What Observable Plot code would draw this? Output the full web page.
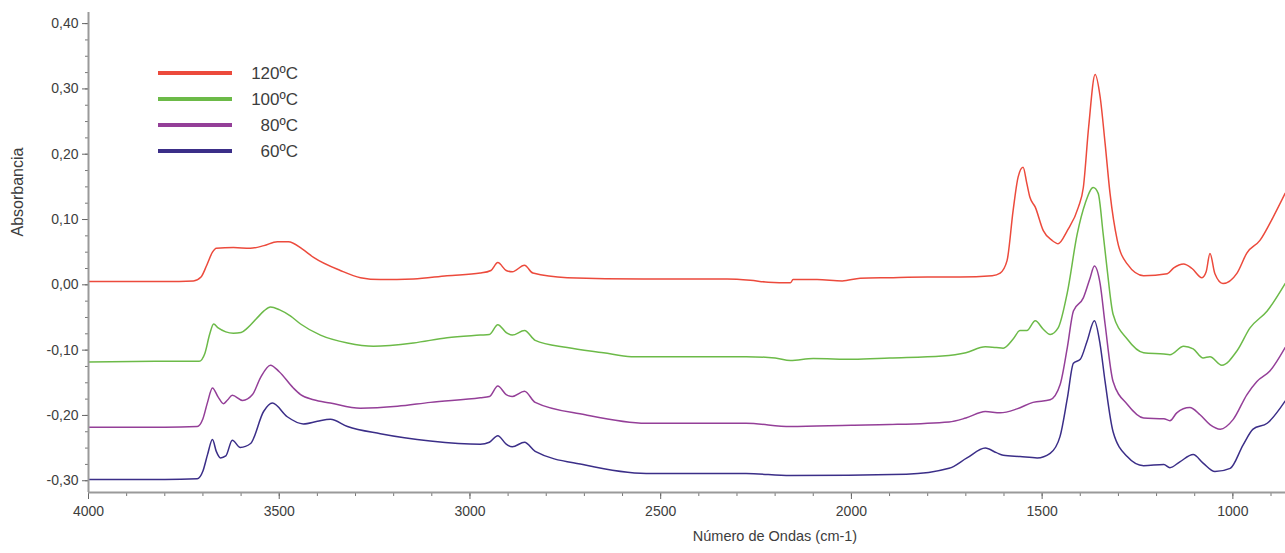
<!DOCTYPE html>
<html>
<head>
<meta charset="utf-8">
<script src="https://cdn.jsdelivr.net/npm/d3@7"></script>
<script src="https://cdn.jsdelivr.net/npm/@observablehq/plot@0.6"></script>
<style>
  html, body { margin: 0; padding: 0; background: #fff; }
  #chart { width: 1285px; height: 553px; overflow: hidden; }
</style>
</head>
<body>
<div id="chart"></div>
<script>
// Series names and colours
const seriesNames = ["120ºC", "100ºC", "80ºC", "60ºC"];
const seriesColors = ["#ec4a3c", "#6cba48", "#943f98", "#3b2e88"];

// [wavenumber (cm-1), absorbance]
const s120 = [[4000,0.005],[3800,0.005],[3725,0.006],[3705,0.012],[3690,0.030],[3675,0.050],[3665,0.056],[3620,0.057],[3576,0.056],[3540,0.060],[3505,0.066],[3476,0.066],[3440,0.055],[3410,0.042],[3340,0.022],[3287,0.011],[3235,0.008],[3148,0.009],[3060,0.014],[2973,0.018],[2945,0.022],[2927,0.034],[2905,0.022],[2889,0.020],[2857,0.030],[2835,0.018],[2745,0.011],[2546,0.009],[2326,0.009],[2265,0.007],[2218,0.004],[2160,0.003],[2153,0.008],[2090,0.008],[2024,0.006],[1977,0.010],[1901,0.011],[1800,0.012],[1715,0.012],[1631,0.014],[1610,0.018],[1592,0.037],[1576,0.114],[1563,0.165],[1550,0.180],[1540,0.155],[1532,0.134],[1518,0.119],[1497,0.083],[1474,0.068],[1458,0.063],[1434,0.083],[1405,0.119],[1392,0.149],[1378,0.242],[1361,0.322],[1348,0.288],[1335,0.217],[1322,0.140],[1303,0.068],[1277,0.032],[1234,0.014],[1172,0.017],[1155,0.026],[1129,0.032],[1107,0.025],[1081,0.011],[1070,0.020],[1060,0.048],[1047,0.017],[1026,0.002],[989,0.018],[963,0.049],[929,0.068],[895,0.103],[863,0.140]];
const s100 = [[4000,-0.118],[3800,-0.117],[3710,-0.117],[3695,-0.105],[3682,-0.075],[3672,-0.060],[3660,-0.066],[3640,-0.072],[3620,-0.074],[3600,-0.073],[3583,-0.066],[3560,-0.052],[3540,-0.040],[3523,-0.034],[3500,-0.038],[3470,-0.048],[3444,-0.060],[3392,-0.077],[3321,-0.089],[3253,-0.094],[3148,-0.089],[3060,-0.081],[2973,-0.077],[2949,-0.076],[2927,-0.061],[2905,-0.073],[2889,-0.077],[2857,-0.070],[2829,-0.085],[2745,-0.096],[2650,-0.104],[2577,-0.110],[2276,-0.110],[2200,-0.112],[2160,-0.116],[2100,-0.113],[1995,-0.114],[1900,-0.112],[1762,-0.109],[1700,-0.104],[1649,-0.095],[1620,-0.096],[1602,-0.097],[1576,-0.083],[1558,-0.070],[1540,-0.070],[1518,-0.055],[1497,-0.068],[1479,-0.076],[1458,-0.066],[1434,-0.012],[1408,0.078],[1387,0.125],[1366,0.149],[1353,0.140],[1340,0.078],[1330,0.026],[1314,-0.045],[1277,-0.083],[1234,-0.104],[1181,-0.106],[1165,-0.107],[1129,-0.094],[1104,-0.098],[1078,-0.112],[1060,-0.110],[1029,-0.123],[989,-0.101],[955,-0.066],[910,-0.040],[863,0.002]];
const s80 = [[4000,-0.218],[3800,-0.218],[3715,-0.217],[3700,-0.205],[3688,-0.180],[3675,-0.158],[3660,-0.172],[3646,-0.182],[3635,-0.176],[3623,-0.169],[3596,-0.177],[3570,-0.168],[3549,-0.142],[3523,-0.123],[3500,-0.133],[3463,-0.158],[3444,-0.168],[3410,-0.176],[3366,-0.181],[3287,-0.189],[3190,-0.186],[3104,-0.180],[2973,-0.173],[2949,-0.171],[2927,-0.155],[2905,-0.168],[2889,-0.171],[2857,-0.163],[2829,-0.180],[2698,-0.199],[2538,-0.212],[2276,-0.212],[2160,-0.217],[2000,-0.215],[1901,-0.214],[1744,-0.210],[1700,-0.204],[1649,-0.194],[1610,-0.196],[1566,-0.190],[1524,-0.180],[1479,-0.176],[1453,-0.153],[1434,-0.096],[1418,-0.040],[1392,-0.020],[1374,0.011],[1363,0.029],[1348,0.002],[1335,-0.060],[1314,-0.148],[1277,-0.183],[1234,-0.204],[1181,-0.205],[1165,-0.208],[1147,-0.196],[1113,-0.188],[1086,-0.199],[1060,-0.214],[1033,-0.221],[999,-0.206],[963,-0.168],[937,-0.148],[903,-0.132],[863,-0.096]];
const s60 = [[4000,-0.298],[3800,-0.298],[3715,-0.297],[3700,-0.285],[3688,-0.260],[3675,-0.237],[3665,-0.255],[3654,-0.265],[3640,-0.262],[3623,-0.238],[3602,-0.249],[3575,-0.243],[3541,-0.194],[3518,-0.181],[3479,-0.202],[3437,-0.213],[3400,-0.209],[3366,-0.206],[3321,-0.217],[3235,-0.228],[3104,-0.239],[2973,-0.244],[2949,-0.241],[2927,-0.231],[2905,-0.244],[2889,-0.248],[2857,-0.241],[2829,-0.255],[2698,-0.276],[2538,-0.289],[2276,-0.289],[2160,-0.292],[1856,-0.290],[1744,-0.281],[1697,-0.265],[1649,-0.250],[1620,-0.257],[1602,-0.261],[1558,-0.263],[1513,-0.265],[1479,-0.258],[1453,-0.232],[1434,-0.174],[1418,-0.120],[1400,-0.114],[1382,-0.086],[1363,-0.055],[1348,-0.091],[1335,-0.148],[1314,-0.225],[1277,-0.263],[1234,-0.277],[1181,-0.275],[1165,-0.280],[1139,-0.271],[1104,-0.260],[1078,-0.273],[1047,-0.286],[1007,-0.281],[973,-0.245],[947,-0.221],[910,-0.212],[863,-0.178]];

// Tick values
const xMajorTicks = [4000, 3500, 3000, 2500, 2000, 1500, 1000];
const xMinorTicks = d3.range(900, 4001, 100);
const yMajorTicks = [-0.30, -0.20, -0.10, 0.00, 0.10, 0.20, 0.30, 0.40];
const yMinorTicks = d3.range(-0.30, 0.4001, 0.025);

const xLabel = "Número de Ondas (cm-1)";
const yLabel = "Absorbancia";

const xDomain = [4000, 862];
const yDomain = [-0.318, 0.417];

const allSeries = [s120, s100, s80, s60];
const rows = allSeries.flatMap((s, i) => s.map(([wn, a]) => ({wn, a, serie: seriesNames[i]})));

const fmtY = d => d3.format(".2f")(d).replace("−", "-").replace(".", ",");
const axisColor = "#9a9a9a";
const textColor = "#3d3d3d";

const chart = Plot.plot({
  width: 1285,
  height: 553,
  marginLeft: 88,
  marginRight: 0,
  marginTop: 12,
  marginBottom: 61,
  style: {fontFamily: "'Liberation Sans', Arial, sans-serif", fontSize: "14px", background: "#fff", color: textColor},
  x: {domain: xDomain, axis: null},
  y: {domain: yDomain, axis: null},
  color: {domain: seriesNames, range: seriesColors},
  marks: [
    Plot.line(rows, {x: "wn", y: "a", z: "serie", stroke: "serie", strokeWidth: 1.5, curve: "monotone-x", clip: true}),
    Plot.axisX({ticks: xMinorTicks, tickSize: 4, text: null, label: null, stroke: "#777", anchor: "bottom"}),
    Plot.axisX({ticks: xMajorTicks, tickSize: 7, tickPadding: 7, tickFormat: d => String(d), stroke: "#666", fill: textColor, anchor: "bottom", label: null, fontSize: 14}),
    Plot.axisY({ticks: yMinorTicks, tickSize: 3, text: null, label: null, stroke: "#777", anchor: "left"}),
    Plot.axisY({ticks: yMajorTicks, tickSize: 6, tickPadding: 4, tickFormat: fmtY, stroke: "#666", fill: textColor, anchor: "left", label: null, fontSize: 14}),
    Plot.ruleY([yDomain[0]], {stroke: axisColor, strokeWidth: 2}),
    Plot.ruleX([xDomain[0]], {stroke: axisColor, strokeWidth: 2}),
    Plot.text([xLabel], {frameAnchor: "bottom", dx: 88, dy: 48, fontSize: 14.5, fill: textColor}),
    Plot.text([yLabel], {frameAnchor: "left", dx: -71, dy: -16, rotate: -90, fontSize: 16, fill: textColor})
  ]
});

// Legend (inside plot area, top-left)
const svg = d3.select(chart);
const legendYs = [73, 99, 125, 151];
const lg = svg.append("g").attr("class", "legend");
seriesNames.forEach((name, i) => {
  lg.append("line")
    .attr("x1", 158).attr("x2", 232)
    .attr("y1", legendYs[i]).attr("y2", legendYs[i])
    .attr("stroke", seriesColors[i]).attr("stroke-width", 4);
  lg.append("text")
    .attr("x", 298).attr("y", legendYs[i] + 6)
    .attr("text-anchor", "end")
    .attr("fill", textColor)
    .attr("font-size", 17)
    .attr("font-family", "'Liberation Sans', Arial, sans-serif")
    .text(name);
});

document.getElementById("chart").appendChild(chart);
</script>
</body>
</html>
